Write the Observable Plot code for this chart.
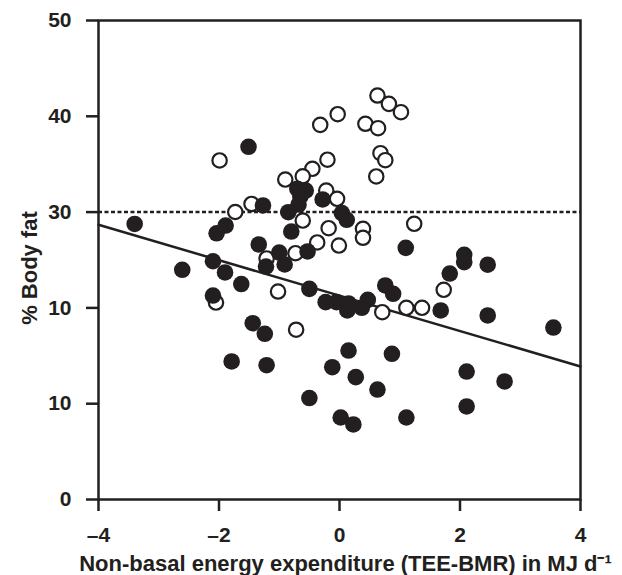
<!DOCTYPE html>
<html><head><meta charset="utf-8">
<script src="https://cdn.jsdelivr.net/npm/d3@7"></script>
<script src="https://cdn.jsdelivr.net/npm/@observablehq/plot@0.6"></script>
<style>body{margin:0;background:#fff}</style>
</head><body><div id="chart"></div>
<script>
// Filled circles
const filledX = [-3.40,-2.61,-2.10,-1.90,-1.63,-2.10,-1.44,-1.24,-1.79,-1.21,-2.04,-1.89,-1.51,-1.34,-1.27,-1.00,-1.22,-0.91,-0.80,-0.53,-0.28,0.04,0.12,-0.70,-0.56,-0.65,-0.68,-0.85,-0.50,-0.23,-0.05,0.15,0.13,0.37,0.47,0.76,0.89,1.68,2.46,3.55,1.83,2.07,2.07,2.46,1.10,-0.50,0.02,0.23,1.11,2.11,2.11,2.74,0.63,0.27,-0.12,0.15,0.87];
const filledY = [28.76,23.98,24.87,23.70,22.49,21.29,18.40,17.30,14.41,14.02,27.79,28.60,36.82,26.62,30.69,25.78,24.32,24.53,27.97,25.89,31.32,29.89,29.20,32.43,32.25,31.63,30.79,29.99,21.99,20.60,20.60,20.46,19.73,20.01,20.85,22.34,21.47,19.73,19.21,17.95,23.59,25.54,24.77,24.51,26.27,10.59,8.56,7.83,8.56,9.71,13.36,12.32,11.48,12.77,13.81,15.55,15.21];
// Open circles
const openX = [0.63,0.82,1.02,-0.03,-0.32,0.43,0.64,0.68,0.76,0.61,-0.20,-0.45,-0.61,-0.90,-1.99,-0.22,-0.04,-1.46,-1.73,-0.61,-0.18,0.39,0.39,1.24,-0.37,-0.01,-0.73,-1.21,-1.02,-0.72,-2.05,0.71,1.11,1.37,1.73];
const openY = [42.17,41.30,40.43,40.22,39.11,39.22,38.76,36.15,35.42,33.72,35.47,34.52,33.74,33.40,35.39,32.25,31.39,30.85,30.01,29.12,28.32,28.26,27.32,28.78,26.83,26.51,25.71,25.16,21.71,17.72,20.56,19.55,20.01,20.01,21.89];
const xTicks = [-4,-2,0,2,4];
const yTicks = [0,10,20,30,40,50];
const yTickLabels = ["0","10","10","30","40","50"];
const thresholdY = 30;
const regIntercept = 21.28;
const regSlope = -1.849;
const xTitle = "Non-basal energy expenditure (TEE-BMR) in MJ d\u207B\u00B9";
const yTitle = "% Body fat";

const ink = "#231f20";
const xDomain = [-4, 4];
const filled = filledX.map((x, i) => ({x, y: filledY[i]}));
const open = openX.map((x, i) => ({x, y: openY[i]}));
const reg = xDomain.map(x => ({x, y: regIntercept + regSlope * x}));
const fmtX = d => d < 0 ? "\u2013" + Math.abs(d) : String(d);
const fmtY = d => yTickLabels[yTicks.indexOf(d)];

const chart = Plot.plot({
  width: 622, height: 575,
  marginLeft: 98, marginRight: 42, marginTop: 20, marginBottom: 76,
  style: {fontFamily: "'Liberation Sans', Arial, sans-serif", fontSize: "21px", fontWeight: "bold", color: ink, background: "#fff"},
  x: {domain: xDomain},
  y: {domain: [0, 50]},
  marks: [
    Plot.axisX({ticks: xTicks, tickFormat: fmtX, tickSize: 12, tickPadding: 16, strokeWidth: 2.5, label: null, fill: ink, stroke: ink}),
    Plot.axisY({ticks: yTicks, tickFormat: fmtY, tickSize: 12, tickPadding: 15, strokeWidth: 2.5, label: null, fill: ink, stroke: ink}),
    Plot.line(reg, {x: "x", y: "y", stroke: ink, strokeWidth: 2.5}),
    Plot.ruleY([thresholdY], {stroke: ink, strokeWidth: 2.5, strokeDasharray: "4,2.5"}),
    Plot.dot(open, {x: "x", y: "y", r: 7.2, fill: "white", stroke: ink, strokeWidth: 2.2}),
    Plot.dot(filled, {x: "x", y: "y", r: 8.3, fill: ink}),
    Plot.frame({stroke: ink, strokeWidth: 2.5}),
    Plot.text([yTitle], {frameAnchor: "left", textAnchor: "middle", lineAnchor: "middle", dx: -69, dy: 8, rotate: -90, fontSize: 22, fontWeight: "bold", fill: ink}),
    Plot.text([xTitle], {frameAnchor: "bottom", textAnchor: "middle", lineAnchor: "middle", dx: 6, dy: 64, fontSize: 22, fontWeight: "bold", fill: ink})
  ]
});
document.getElementById("chart").appendChild(chart);
</script>
</body></html>
